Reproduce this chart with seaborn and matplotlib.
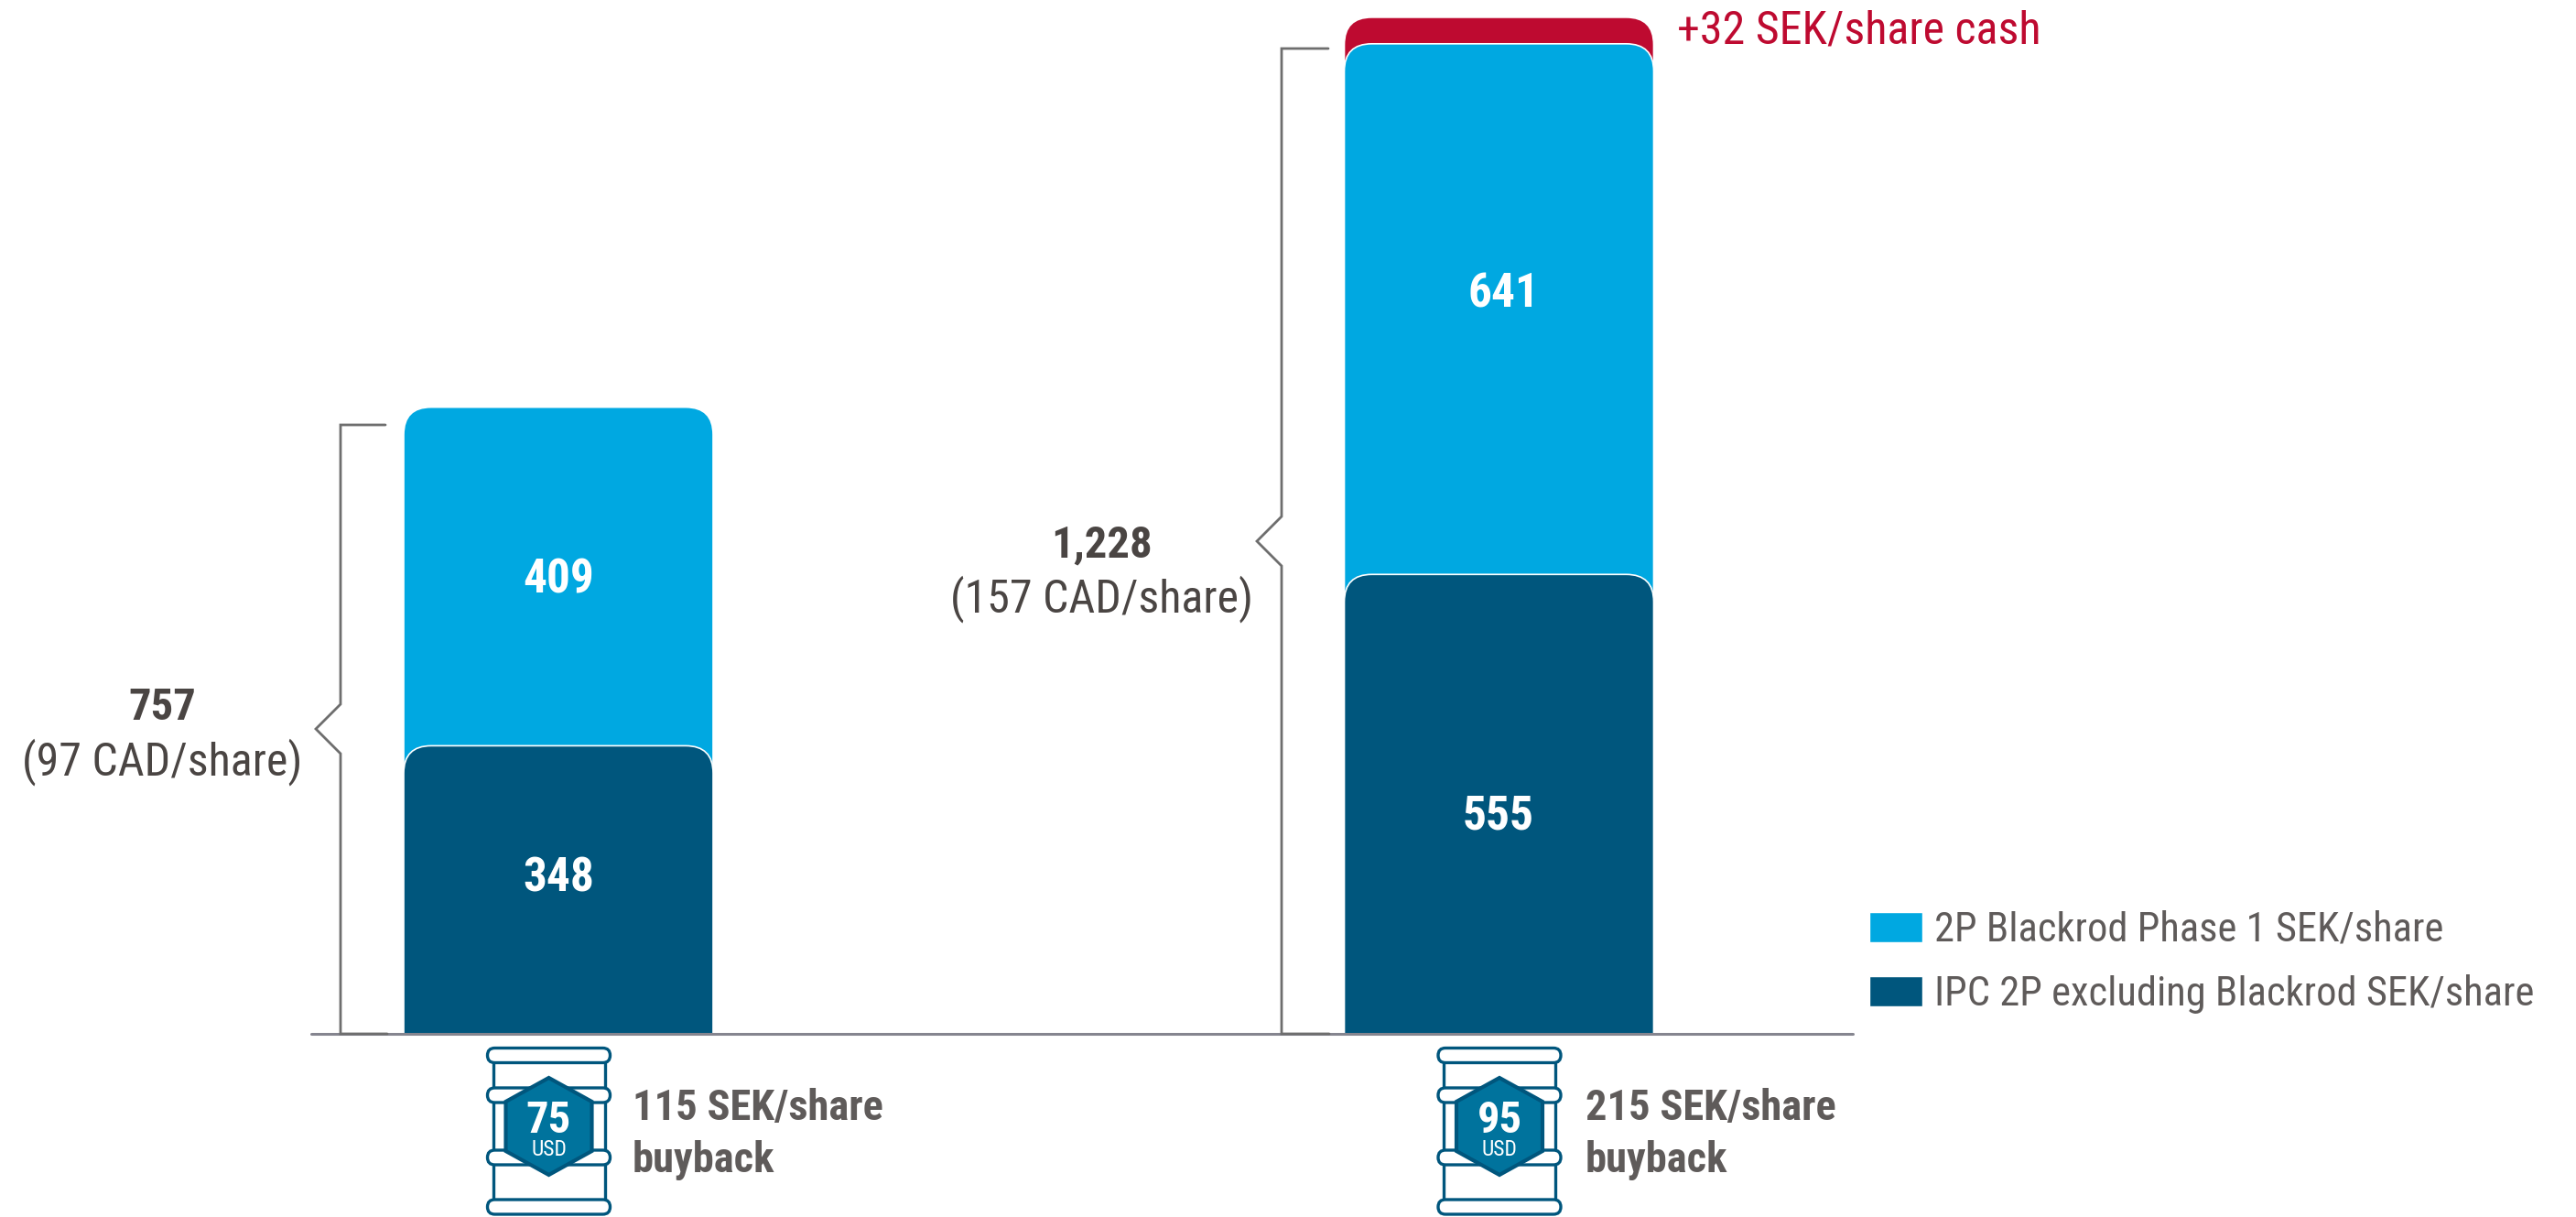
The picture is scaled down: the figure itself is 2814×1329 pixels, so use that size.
#!/usr/bin/python
# -*- coding: utf-8 -*-

import pandas as pd
import seaborn as sns
import matplotlib.pyplot as plt
from matplotlib.patches import FancyBboxPatch, PathPatch, Polygon, Rectangle
from matplotlib.path import Path

# values, SEK/share
scenarios = ['75 USD', '95 USD']
ipc_2p = [348, 555]
blackrod = [409, 641]
cash = [0, 32]
totals = ['757', '1,228']
totals_cad = ['(97 CAD/share)', '(157 CAD/share)']
oil_price = ['75', '95']
buyback_top = ['115 SEK/share', '215 SEK/share']
buyback_bottom = ['buyback', 'buyback']
legend_labels = ['2P Blackrod Phase 1 SEK/share', 'IPC 2P excluding Blackrod SEK/share']
cash_label = '+32 SEK/share cash'

DARK = '#00567D'
LIGHT = '#00A8E1'
RED = '#BE0A30'
HEX = '#00739D'
GREY = '#5F5B5A'
DARK_GREY = '#4A4543'
LINE = '#6E6E6E'

W, H = 2814, 1329
BASE_Y = 1129
PX_PER_UNIT = 0.904

sns.set_theme(style='white')
plt.rcParams['font.family'] = ['Roboto Condensed', 'DejaVu Sans']

tbl = pd.DataFrame({'scenario': scenarios, 'ipc': ipc_2p, 'blackrod': blackrod, 'cash': cash})
tbl['top_blackrod'] = tbl['ipc'] + tbl['blackrod']
tbl['top_cash'] = tbl['top_blackrod'] + tbl['cash']

fig = plt.figure(figsize=(W / 100, H / 100), dpi=100)
ax = fig.add_axes([0, 0, 1, 1])

# stack is drawn back to front, so every segment keeps its rounded top
for col, colour in [('top_cash', RED), ('top_blackrod', LIGHT), ('ipc', DARK)]:
    sns.barplot(data=tbl, x='scenario', y=col, color=colour, saturation=1,
                width=338 / 1027.5, ax=ax)

ax.set_xlim(-610 / 1027.5, (W - 610) / 1027.5)
ax.set_ylim(-(H - BASE_Y) / PX_PER_UNIT, BASE_Y / PX_PER_UNIT)
ax.set_axis_off()


def round_top(axis, bar, radius=30):
    """ Swap a plain bar for one with rounded top corners """
    x0, y0 = bar.get_x(), bar.get_y()
    x1, y1 = x0 + bar.get_width(), y0 + bar.get_height()
    rx = radius / 1027.5
    ry = radius / PX_PER_UNIT
    verts = [(x0, y0), (x0, y1 - ry), (x0, y1), (x0 + rx, y1), (x1 - rx, y1),
             (x1, y1), (x1, y1 - ry), (x1, y0), (x0, y0)]
    codes = [Path.MOVETO, Path.LINETO, Path.CURVE3, Path.CURVE3, Path.LINETO,
             Path.CURVE3, Path.CURVE3, Path.LINETO, Path.CLOSEPOLY]
    colour = bar.get_facecolor()
    bar.remove()
    axis.add_patch(PathPatch(Path(verts, codes), facecolor=colour,
                             edgecolor='white', linewidth=1.2))


for bar in list(ax.patches):
    if bar.get_height() > 0:
        round_top(ax, bar)

# overlay in picture pixels for the annotations
pix = fig.add_axes([0, 0, 1, 1], facecolor='none')
pix.set_xlim(0, W)
pix.set_ylim(H, 0)
pix.set_axis_off()

pix.plot([340, 2024], [BASE_Y, BASE_Y], color='#85858F', lw=2.2)

# values inside the bars
for x, y, txt in [(610, 647, blackrod[0]), (610, 973, ipc_2p[0]),
                  (1642, 336, blackrod[1]), (1637, 906, ipc_2p[1])]:
    pix.text(x, y, str(txt), color='white', fontsize=37, fontweight='bold',
             ha='center', va='baseline')


def brace(axis, x, top, tip_y, tick_top, tick_bottom):
    """ Square bracket with a small point towards the label """
    xs = [tick_top, x, x, x - 27, x, x, tick_bottom]
    ys = [top, top, tip_y - 27, tip_y, tip_y + 27, BASE_Y, BASE_Y]
    axis.plot(xs, ys, color=LINE, lw=2.0, solid_joinstyle='miter')


brace(pix, 372, 464, 796, 421, 423)
brace(pix, 1400, 53, 591, 1451, 1452)

for x, y_total, y_cad, total, cad in zip((177, 1203), (786, 608), (846, 668),
                                         totals, totals_cad):
    pix.text(x, y_total, total, color=DARK_GREY, fontsize=35, fontweight='bold',
             ha='center', va='baseline')
    pix.text(x, y_cad, cad, color=DARK_GREY, fontsize=36,
             ha='center', va='baseline')

pix.text(1832, 48, cash_label, color=RED, fontsize=36, ha='left', va='baseline')


def barrel(axis, cx, price):
    """ Oil barrel icon with the price hexagon """
    for dx in (-61, 61):
        axis.plot([cx + dx, cx + dx], [1152, 1318], color=DARK, lw=2.4, zorder=3)
    for y_mid in (1152.5, 1196, 1264, 1318):
        axis.add_patch(FancyBboxPatch((cx - 59, y_mid), 118, 0,
                                      boxstyle='round,pad=8,rounding_size=8',
                                      facecolor='white', edgecolor=DARK, lw=2.4, zorder=4))
    axis.add_patch(Polygon([(cx, 1177), (cx + 47, 1203), (cx + 47, 1257), (cx, 1283),
                            (cx - 47, 1257), (cx - 47, 1203)], closed=True,
                           facecolor=HEX, edgecolor=DARK, lw=3, zorder=5))
    axis.text(cx, 1237, price, color='white', fontsize=35, fontweight='bold',
              ha='center', va='baseline', zorder=6)
    axis.text(cx, 1262, 'USD', color='white', fontsize=17,
              ha='center', va='baseline', zorder=6)


for cx, tx, price, top, bottom in zip((599.5, 1638), (691, 1732), oil_price,
                                      buyback_top, buyback_bottom):
    barrel(pix, cx, price)
    pix.text(tx, 1223, top, color=GREY, fontsize=33.5, fontweight='bold', ha='left', va='baseline')
    pix.text(tx, 1280, bottom, color=GREY, fontsize=33.5, fontweight='bold', ha='left', va='baseline')

# legend
handles = [Rectangle((0, 0), 1, 1, facecolor=LIGHT), Rectangle((0, 0), 1, 1, facecolor=DARK)]
leg = pix.legend(handles, legend_labels, loc='upper left',
                 bbox_to_anchor=(2042, 995), bbox_transform=pix.transData,
                 frameon=False, fontsize=32, borderaxespad=0, borderpad=0,
                 handlelength=1.3, handleheight=0.766, handletextpad=0.29,
                 labelspacing=0.6)
for t in leg.get_texts():
    t.set_color(GREY)

plt.savefig('out.png', dpi=100)
